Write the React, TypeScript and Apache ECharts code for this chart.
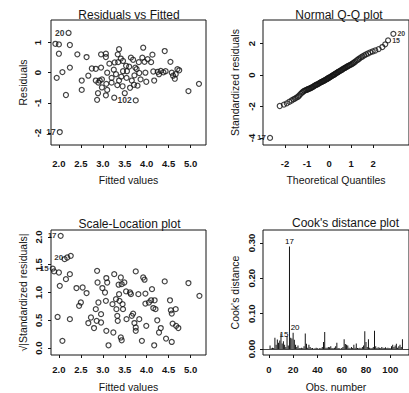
import React, { useEffect, useRef } from "react";
import * as echarts from "echarts";

const FONT = "'Liberation Sans', Arial, Helvetica, sans-serif";
const INK = "#151515";

// tick values
const fittedTicks = [2, 2.5, 3, 3.5, 4, 4.5, 5];
const residualTicks = [-2, -1, 0, 1];
const qqXTicks = [-2, -1, 0, 1, 2];
const qqYTicks = [-4, -2, 0, 2];
const scaleTicks = [0, 0.5, 1, 1.5, 2];
const cookXTicks = [0, 20, 40, 60, 80, 100];
const cookYTicks = [0, 0.1, 0.2, 0.3];

// Residuals vs Fitted: [fitted, residual]
const residualPoints = [
  [1.92, 0.96], [2.0, 0.94], [2.0, 0.63], [2.25, 0.92], [1.95, -0.17], [2.08, 0.02],
  [2.25, 0.17], [2.16, -0.74], [2.42, 0.61], [2.63, 0.52], [2.52, -0.26], [2.52, -0.57],
  [2.67, -0.1], [2.75, 0.14], [2.84, 0.13], [2.96, 0.17], [2.96, 0.61], [3.07, 0.63],
  [3.07, 0.52], [3.15, 0.3], [3.27, 0.34], [3.34, 0.61], [3.37, 0.78], [3.41, 0.47],
  [3.46, 0.39], [3.35, 0.35], [2.84, -0.26], [2.9, -0.33], [2.93, -0.26], [2.98, -0.22],
  [3.08, -0.37], [2.98, -0.49], [2.89, -0.68], [2.87, -0.9], [3.1, -0.57], [3.07, -0.75],
  [3.26, -0.83], [3.1, 0.0], [3.2, -0.17], [3.2, -0.33], [3.3, -0.05], [3.37, -0.26],
  [3.42, -0.13], [3.33, -0.41], [3.46, 0.05], [3.53, 0.23], [3.54, -0.17], [3.62, -0.5],
  [3.5, -0.68], [3.66, -0.26], [3.72, -0.09], [3.74, 0.17], [3.64, 0.5], [3.69, 0.43],
  [3.82, 0.35], [3.77, 0.12], [3.83, -0.01], [3.79, -0.43], [3.86, -0.22], [3.92, 0.83],
  [3.9, 0.5], [3.95, 0.36], [3.97, 0.0], [3.99, -0.3], [4.02, 0.45], [4.1, 0.35],
  [4.13, 0.6], [4.15, 0.04], [4.17, -0.26], [4.28, -0.05], [4.32, 0.06], [4.43, 0.05],
  [4.41, 0.72], [4.54, 0.36], [4.57, 0.0], [4.6, -0.1], [4.64, -0.2], [4.74, 0.08],
  [4.66, -0.05], [4.95, -0.61], [5.19, -0.37], [3.71, -0.4], [4.25, 0.03], [4.7, 0.12],
  [4.38, 0.01], [3.6, 0.2], [3.45, -0.45], [3.25, 0.1], [3.55, 0.05],
];
const residualLabelled = [
  [2.22, 1.32, "20"],
  [2.02, -1.97, "17"],
  [3.75, -0.92, "102"],
];

// Normal Q-Q: [theoretical quantile, standardized residual]
const qqPoints = [
  [-2.24, -1.97], [-2.05, -1.88], [-1.92, -1.8], [-1.8, -1.7], [-1.7, -1.62], [-1.62, -1.55],
  [-1.55, -1.5], [-1.48, -1.44], [-1.41, -1.38], [-1.35, -1.3], [-1.29, -1.2], [-1.23, -1.12],
  [-1.18, -1.06], [-1.13, -1.01], [-1.08, -0.98], [-1.03, -0.95], [-0.98, -0.92], [-0.94, -0.89],
  [-0.9, -0.87], [-0.85, -0.84], [-0.81, -0.81], [-0.77, -0.78], [-0.73, -0.75], [-0.69, -0.71],
  [-0.65, -0.67], [-0.61, -0.64], [-0.57, -0.62], [-0.53, -0.59], [-0.49, -0.56], [-0.45, -0.53],
  [-0.42, -0.5], [-0.38, -0.47], [-0.34, -0.44], [-0.31, -0.42], [-0.27, -0.39], [-0.23, -0.36],
  [-0.2, -0.34], [-0.16, -0.31], [-0.13, -0.28], [-0.09, -0.25], [-0.06, -0.22], [-0.02, -0.19],
  [0.01, -0.16], [0.05, -0.13], [0.08, -0.1], [0.12, -0.07], [0.15, -0.04], [0.19, -0.01],
  [0.22, 0.02], [0.26, 0.05], [0.3, 0.09], [0.33, 0.12], [0.37, 0.15], [0.41, 0.19],
  [0.44, 0.22], [0.48, 0.25], [0.52, 0.28], [0.56, 0.31], [0.6, 0.35], [0.64, 0.39],
  [0.68, 0.42], [0.72, 0.45], [0.76, 0.49], [0.81, 0.53], [0.85, 0.56], [0.9, 0.6],
  [0.94, 0.63], [0.99, 0.66], [1.04, 0.7], [1.09, 0.75], [1.14, 0.8], [1.2, 0.86],
  [1.26, 0.93], [1.32, 0.99], [1.38, 1.05], [1.45, 1.12], [1.52, 1.18], [1.6, 1.25],
  [1.68, 1.31], [1.77, 1.37], [1.87, 1.44], [1.98, 1.5], [2.1, 1.56], [2.25, 1.65],
  [2.42, 1.78], [2.55, 1.95],
];
const qqLabelledLeft = [[-2.68, -4.0, "17"]];
const qqLabelledRight = [
  [2.68, 2.2, "15"],
  [2.92, 2.62, "20"],
];

// Scale-Location: [fitted, sqrt(|standardized residual|)]
const scalePoints = [
  [2.13, 1.6], [2.0, 1.36], [2.25, 1.33], [2.16, 1.24], [2.02, 1.12], [1.97, 0.56],
  [2.08, 0.13], [2.25, 0.52], [2.4, 1.08], [2.54, 1.09], [2.63, 0.99], [2.46, 0.76],
  [2.5, 0.82], [2.67, 0.45], [2.73, 0.55], [2.8, 0.36], [2.87, 1.39], [2.88, 1.18],
  [2.9, 0.82], [2.84, 0.7], [2.86, 0.49], [2.96, 0.61], [2.96, 0.46], [2.99, 1.08],
  [3.05, 1.0], [3.07, 0.85], [3.08, 1.26], [3.1, 1.18], [3.08, 0.31], [3.13, 0.05],
  [3.22, 0.79], [3.24, 0.28], [3.26, 1.33], [3.3, 0.88], [3.31, 0.7], [3.33, 0.58],
  [3.34, 0.49], [3.36, 1.14], [3.37, 0.97], [3.38, 0.85], [3.41, 1.27], [3.43, 1.15],
  [3.45, 0.79], [3.46, 0.7], [3.41, 0.19], [3.43, 0.14], [3.49, 1.18], [3.53, 1.02],
  [3.54, 0.52], [3.62, 1.0], [3.64, 0.97], [3.66, 0.58], [3.69, 0.62], [3.72, 0.45],
  [3.75, 0.31], [3.75, 0.37], [3.75, 1.38], [3.81, 0.97], [3.83, 0.52], [3.89, 0.13],
  [3.92, 1.27], [3.95, 1.23], [3.97, 0.98], [3.97, 0.8], [3.99, 0.4], [4.05, 0.82],
  [4.1, 0.86], [4.12, 1.06], [4.15, 0.72], [4.17, 0.05], [4.18, 0.86], [4.2, 0.7],
  [4.24, 0.5], [4.28, 0.28], [4.32, 0.36], [4.41, 1.2], [4.44, 0.17], [4.53, 0.86],
  [4.55, 0.68], [4.57, 0.62], [4.57, 0.11], [4.59, 0.44], [4.66, 0.7], [4.67, 0.4],
  [4.72, 0.36], [4.95, 1.17], [5.2, 0.94], [2.27, 1.66], [1.89, 1.38],
];
const scaleLabelled = [
  [2.04, 2.02, "17"],
  [2.19, 1.63, "20"],
  [1.86, 1.43, "15"],
];

// Cook's distance, observation 1..110
const cookDistances = [
  0.010, 0.002, 0.004, 0.003, 0.032, 0.012, 0.027, 0.018, 0.024, 0.044,
  0.016, 0.022, 0.012, 0.006, 0.036, 0.010, 0.290, 0.032, 0.030, 0.046,
  0.026, 0.012, 0.006, 0.010, 0.003, 0.002, 0.004, 0.003, 0.008, 0.044,
  0.015, 0.004, 0.012, 0.006, 0.002, 0.003, 0.001, 0.002, 0.004, 0.002,
  0.001, 0.003, 0.002, 0.006, 0.020, 0.048, 0.004, 0.004, 0.006, 0.005,
  0.008, 0.003, 0.002, 0.004, 0.008, 0.018, 0.003, 0.002, 0.001, 0.003,
  0.006, 0.028, 0.014, 0.012, 0.010, 0.004, 0.002, 0.006, 0.003, 0.012,
  0.004, 0.016, 0.003, 0.002, 0.004, 0.002, 0.006, 0.010, 0.050, 0.020,
  0.006, 0.028, 0.004, 0.002, 0.003, 0.006, 0.052, 0.008, 0.003, 0.005,
  0.004, 0.002, 0.006, 0.004, 0.003, 0.005, 0.002, 0.004, 0.003, 0.002,
  0.008, 0.012, 0.006, 0.010, 0.015, 0.004, 0.008, 0.012, 0.006, 0.028,
];
const cookLabelled = [15, 17, 20];
const cookLabelOffsets: Record<number, number[]> = { 15: [-3, 3], 17: [0, 0], 20: [2, 0] };

const tickText = { color: INK, fontFamily: FONT, fontSize: 9.5, fontWeight: "bold" as const };
const nameText = { color: INK, fontFamily: FONT, fontSize: 10.5 };

function xAxis(gridIndex: number, min: number, max: number, ticks: number[], digits: number, name: string, margin: number, nameGap: number) {
  return {
    type: "value", gridIndex, min, max, name, position: "bottom",
    nameLocation: "middle", nameGap, nameTextStyle: nameText,
    axisLine: { show: false, onZero: false },
    splitLine: { show: false },
    axisTick: { show: true, length: 3, customValues: ticks, lineStyle: { color: INK, width: 1 } },
    axisLabel: { show: true, customValues: ticks, margin, formatter: (v: number) => v.toFixed(digits), ...tickText },
  };
}
function yAxis(gridIndex: number, min: number, max: number, ticks: number[], digits: number, name: string, margin: number, nameGap: number) {
  return {
    type: "value", gridIndex, min, max, name, position: "left",
    nameLocation: "middle", nameGap, nameRotate: 90, nameTextStyle: nameText,
    axisLine: { show: false, onZero: false },
    splitLine: { show: false },
    axisTick: { show: true, length: 3, customValues: ticks, lineStyle: { color: INK, width: 1 } },
    axisLabel: { show: true, rotate: 90, customValues: ticks, margin, formatter: (v: number) => v.toFixed(digits), ...tickText },
  };
}

const openCircle = { color: "rgba(0,0,0,0)", borderColor: INK, borderWidth: 1.2 };

function scatter(idx: number, points: number[][]) {
  return {
    type: "scatter", xAxisIndex: idx, yAxisIndex: idx, symbol: "circle", symbolSize: 5,
    itemStyle: openCircle, data: points, silent: true,
  };
}
function labelled(idx: number, points: any[][], position: string, fontSize: number) {
  return {
    type: "scatter", xAxisIndex: idx, yAxisIndex: idx, symbol: "circle", symbolSize: 5,
    itemStyle: openCircle, silent: true,
    data: points.map(([x, y, n]) => ({ value: [x, y], name: n })),
    label: {
      show: true, position, distance: 1, formatter: "{b}", color: "#000",
      fontFamily: FONT, fontSize, fontWeight: "bold", textBorderWidth: 0,
    },
  };
}

function title(text: string, x: number, y: number) {
  return {
    type: "text", x, y,
    style: { text, textAlign: "center", textVerticalAlign: "middle", verticalAlign: "middle", fill: INK, font: `12px ${FONT}` },
  };
}

export default function App() {
  const ref = useRef<HTMLDivElement>(null);
  useEffect(() => {
    if (!ref.current) return;
    const chart = echarts.init(ref.current, undefined, { renderer: "svg" });
    const gridBase = { show: true, borderColor: INK, borderWidth: 1, backgroundColor: "transparent", containLabel: false };
    chart.setOption({
      animation: false,
      backgroundColor: "#ffffff",
      grid: [
        { ...gridBase, left: 51, top: 20, width: 155, height: 125 },
        { ...gridBase, left: 263, top: 20, width: 149, height: 125 },
        { ...gridBase, left: 51, top: 230, width: 155, height: 126 },
        { ...gridBase, left: 263, top: 230, width: 149, height: 126 },
      ],
      xAxis: [
        xAxis(0, 1.82, 5.35, fittedTicks, 1, "Fitted values", 13, 29),
        xAxis(1, -3.0, 3.63, qqXTicks, 0, "Theoretical Quantiles", 13, 29),
        xAxis(2, 1.82, 5.35, fittedTicks, 1, "Fitted values", 9, 26),
        xAxis(3, -4.8, 115.4, cookXTicks, 0, "Obs. number", 9, 26),
      ],
      yAxis: [
        yAxis(0, -2.4, 1.75, residualTicks, 0, "Residuals", 9, 23),
        yAxis(1, -4.45, 3.5, qqYTicks, 0, "Standardized residuals", 7, 23),
        yAxis(2, -0.125, 2.125, scaleTicks, 1, "√|Standardized residuals|", 8, 23),
        yAxis(3, -0.0168, 0.3364, cookYTicks, 2, "Cook's distance", 7, 23),
      ],
      graphic: [
        title("Residuals vs Fitted", 129, 15),
        title("Normal Q-Q plot", 339, 15),
        title("Scale-Location plot", 129.5, 224),
        title("Cook's distance plot", 345.5, 223),
      ],
      series: [
        scatter(0, residualPoints),
        labelled(0, residualLabelled, "left", 8.5),
        scatter(1, qqPoints),
        labelled(1, qqLabelledLeft, "left", 8),
        labelled(1, qqLabelledRight, "right", 7),
        scatter(2, scalePoints),
        labelled(2, scaleLabelled, "left", 8),
        {
          type: "bar", xAxisIndex: 3, yAxisIndex: 3, barWidth: 1, silent: true,
          itemStyle: { color: INK },
          data: cookDistances.map((v, i) =>
            cookLabelled.includes(i + 1)
              ? {
                  value: [i + 1, v],
                  label: {
                    show: true, position: "top", distance: 1, offset: cookLabelOffsets[i + 1],
                    formatter: String(i + 1), color: "#000", fontFamily: FONT, fontSize: 8,
                  },
                }
              : [i + 1, v]
          ),
          markLine: {
            silent: true, symbol: "none", label: { show: false },
            lineStyle: { color: INK, width: 0.8, type: "solid" },
            data: [{ yAxis: 0 }],
          },
        },
      ],
    });
    return () => chart.dispose();
  }, []);
  return <div ref={ref} style={{ position: "fixed", left: 0, top: 0, width: 409, height: 393 }} />;
}
